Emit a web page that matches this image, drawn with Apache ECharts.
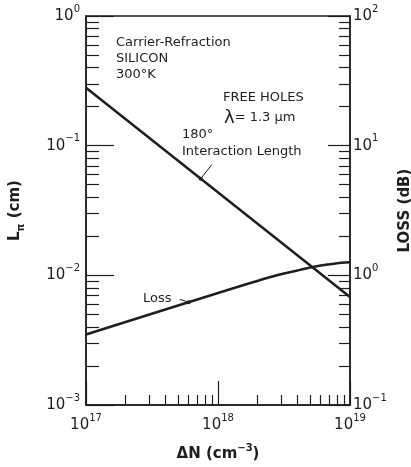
<!DOCTYPE html>
<html><head><meta charset="utf-8">
<script src="https://cdn.jsdelivr.net/npm/echarts@6/dist/echarts.min.js"></script>
<style>html,body{margin:0;padding:0;background:#fff}#c{width:411px;height:467px}</style>
</head><body><div id="c"></div>
<script>
// ---- data ----
const lengthDN = [1e17, 1e19];
const lengthCm = [0.28, 0.0068];
const lossDN = [1e17, 1e18, 2.5e18, 4e18, 5e18, 6e18, 8e18, 1e19];
const lossDB = [0.35, 0.73, 0.97, 1.09, 1.15, 1.19, 1.24, 1.26];
const xMajor = [1e17, 1e18, 1e19];
const xMinor = [2e17, 3e17, 4e17, 5e17, 6e17, 7e17, 8e17, 9e17, 2e18, 3e18, 4e18, 5e18, 6e18, 7e18, 8e18, 9e18];
const leftMajor = [1e-3, 1e-2, 1e-1, 1];
const leftMinor = [2e-3, 3e-3, 4e-3, 5e-3, 6e-3, 7e-3, 8e-3, 9e-3, 2e-2, 3e-2, 4e-2, 5e-2, 6e-2, 7e-2, 8e-2, 9e-2, 0.2, 0.3, 0.4, 0.5, 0.6, 0.7, 0.8, 0.9];
const rightMajor = [0.1, 1, 10, 100];
const rightMinor = [0.2, 0.3, 0.4, 0.5, 0.6, 0.7, 0.8, 0.9, 2, 3, 4, 5, 6, 7, 8, 9, 20, 30, 40, 50, 60, 70, 80, 90];

const INK = '#1e1e1e';
const FONT = 'DejaVu Sans';
function pow10Label(v) {
  const e = Math.round(Math.log10(v));
  return '{b|10}{s|' + (e < 0 ? '\u2212' + (-e) : e) + '}';
}
const richLab = {
  b: {fontSize: 15, fontFamily: FONT, color: INK, lineHeight: 24},
  s: {fontSize: 10, fontFamily: FONT, color: INK, verticalAlign: 'top', lineHeight: 12}
};
const lineStyleAxis = {color: INK, width: 1.5};

function majorAxis(base, extra) {
  return Object.assign({
    type: 'log', logBase: 10,
    axisLine: {show: true, lineStyle: lineStyleAxis},
    splitLine: {show: false},
    minorTick: {show: false},
    axisLabel: {formatter: pow10Label, rich: richLab},
  }, base, extra);
}
function minorAxis(base) {
  return Object.assign({
    type: 'log', logBase: 10,
    axisLine: {show: false},
    splitLine: {show: false},
    axisLabel: {show: false},
  }, base);
}

const chart = echarts.init(document.getElementById('c'), null, {renderer: 'canvas'});
const option = {
  animation: false,
  backgroundColor: '#fff',
  grid: {left: 86, right: 61, top: 16, bottom: 62, show: true, borderColor: INK, borderWidth: 1.5,
    backgroundColor: 'transparent', containLabel: false, outerBoundsMode: 'none'},
  xAxis: [
    majorAxis({min: 1e17, max: 1e19, position: 'bottom'}, {
      name: '{n|\u0394N (cm}{s|\u22123}{n|)}',
      nameLocation: 'middle', nameGap: 38,
      nameTextStyle: {rich: {
        n: {fontSize: 15, fontFamily: FONT, fontWeight: 'bold', color: INK, lineHeight: 22},
        s: {fontSize: 10, fontFamily: FONT, fontWeight: 'bold', color: INK, verticalAlign: 'top', lineHeight: 12}
      }},
      axisTick: {show: true, inside: true, length: 24, lineStyle: {color: INK, width: 1.2}, customValues: xMajor},
      axisLabel: {formatter: pow10Label, rich: richLab, margin: 8, customValues: xMajor}
    }),
    minorAxis({min: 1e17, max: 1e19, position: 'bottom',
      axisTick: {show: true, inside: true, length: 10, lineStyle: {color: INK, width: 1.2}, customValues: xMinor}})
  ],
  yAxis: [
    majorAxis({min: 1e-3, max: 1, position: 'left'}, {
      name: '{n|L}{p|\u03c0}{n| (cm)}',
      nameLocation: 'middle', nameGap: 60, nameRotate: 90,
      nameTextStyle: {rich: {
        n: {fontSize: 15, fontFamily: FONT, fontWeight: 'bold', color: INK, lineHeight: 22},
        p: {fontSize: 10, fontFamily: FONT, fontWeight: 'bold', color: INK, verticalAlign: 'bottom', lineHeight: 12}
      }},
      axisTick: {show: true, inside: true, length: 28, lineStyle: {color: INK, width: 1.2}, customValues: leftMajor},
      axisLabel: {formatter: pow10Label, rich: richLab, margin: 6, customValues: leftMajor}
    }),
    minorAxis({min: 1e-3, max: 1, position: 'left',
      axisTick: {show: true, inside: true, length: 13, lineStyle: {color: INK, width: 1.2}, customValues: leftMinor}}),
    majorAxis({min: 0.1, max: 100, position: 'right'}, {
      name: 'LOSS (dB)',
      nameLocation: 'middle', nameGap: 46, nameRotate: 90,
      nameTextStyle: {fontSize: 15, fontFamily: FONT, fontWeight: 'bold', color: INK},
      axisTick: {show: true, inside: true, length: 22, lineStyle: {color: INK, width: 1.2}, customValues: rightMajor},
      axisLabel: {formatter: pow10Label, rich: richLab, margin: 3, customValues: rightMajor}
    }),
    minorAxis({min: 0.1, max: 100, position: 'right',
      axisTick: {show: true, inside: true, length: 11, lineStyle: {color: INK, width: 1.2}, customValues: rightMinor}})
  ],
  series: [
    {
      name: '180\u00b0 Interaction Length', type: 'line', xAxisIndex: 0, yAxisIndex: 0,
      data: lengthDN.map((x, i) => [x, lengthCm[i]]),
      showSymbol: false, lineStyle: {color: INK, width: 2.5}, silent: true
    },
    {
      name: 'Loss', type: 'line', xAxisIndex: 0, yAxisIndex: 2,
      data: lossDN.map((x, i) => [x, lossDB[i]]),
      smooth: 0.2,
      showSymbol: false, lineStyle: {color: INK, width: 2.5}, silent: true
    }
  ]
};
chart.setOption(option);

// ---- annotations anchored through the chart's own scales ----
function px(x, y, yi) { return chart.convertToPixel({xAxisIndex: 0, yAxisIndex: yi}, [x, y]); }
function lineAt(xs, ys, x) {
  const lx = Math.log10(x);
  for (let i = 0; i < xs.length - 1; i++) {
    const a = Math.log10(xs[i]), b = Math.log10(xs[i + 1]);
    if (lx >= a && lx <= b) {
      const t = (lx - a) / (b - a);
      return Math.pow(10, Math.log10(ys[i]) + t * (Math.log10(ys[i + 1]) - Math.log10(ys[i])));
    }
  }
  return ys[ys.length - 1];
}
const tipL = px(7.4e17, lineAt(lengthDN, lengthCm, 7.4e17), 0);
const tipS = px(6.0e17, lineAt(lossDN, lossDB, 6.0e17), 2);
const tf = {fontFamily: FONT, fontSize: 13, fill: INK};
function txt(x, y, s, extra) {
  return {type: 'text', x: x, y: y, style: Object.assign({text: s, verticalAlign: 'middle', align: 'left'}, tf, extra || {})};
}
chart.setOption({
  graphic: [
    txt(116, 43, 'Carrier-Refraction'),
    txt(116, 59, 'SILICON'),
    txt(116, 75, '300\u00b0K'),
    txt(223, 98, 'FREE HOLES'),
    {type: 'text', x: 224, y: 118, style: {text: '{l|\u03bb}{t|= 1.3 \u00b5m}', verticalAlign: 'middle', align: 'left',
      rich: {l: {fontFamily: FONT, fontSize: 18, fill: INK, color: INK}, t: {fontFamily: FONT, fontSize: 13, fill: INK, color: INK}}}},
    txt(182, 135, '180\u00b0'),
    txt(182, 152, 'Interaction Length'),
    {type: 'line', shape: {x1: tipL[0] + 11, y1: tipL[1] - 14, x2: tipL[0], y2: tipL[1]}, style: {stroke: INK, lineWidth: 1}},
    {type: 'circle', shape: {cx: tipL[0], cy: tipL[1], r: 2}, style: {fill: INK}},
    txt(143, 299, 'Loss'),
    {type: 'line', shape: {x1: tipS[0] - 9, y1: tipS[1] - 3, x2: tipS[0], y2: tipS[1]}, style: {stroke: INK, lineWidth: 1}},
    {type: 'circle', shape: {cx: tipS[0], cy: tipS[1], r: 2}, style: {fill: INK}}
  ]
});
</script>
</body></html>
